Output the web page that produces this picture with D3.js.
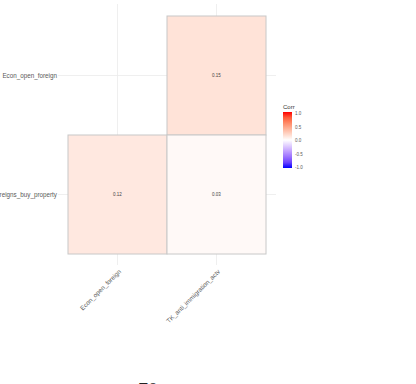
<!DOCTYPE html>
<html>
<head>
<meta charset="utf-8">
<script src="https://cdn.jsdelivr.net/npm/d3@7"></script>
<style>
  body { margin: 0; background: #fff; }
  svg { display: block; font-family: "Liberation Sans", Arial, sans-serif; }
</style>
</head>
<body>
<div id="chart"></div>
<script>
// variables on each axis
const xVars = ["Econ_open_foreign", "TK_anti_immigration_actv"];
const yVars = ["Econ_open_foreign", "Foreigns_buy_property"];
// lower-triangle correlations (x, y, r)
const cellX = ["TK_anti_immigration_actv", "Econ_open_foreign", "TK_anti_immigration_actv"];
const cellY = ["Econ_open_foreign", "Foreigns_buy_property", "Foreigns_buy_property"];
const cellR = [0.15, 0.12, 0.03];
const legendTicks = [1.0, 0.5, 0.0, -0.5, -1.0];

const W = 416, H = 384;
const svg = d3.select('#chart').append('svg').attr('width', W).attr('height', H);

const x = d3.scaleBand().domain(xVars).range([68, 266]);
const y = d3.scaleBand().domain(yVars).range([16, 254]);

const color = d3.scaleLinear().domain([-1, 0, 1])
  .range(["#0000ff", "#ffffff", "#ff0000"])
  .interpolate(d3.interpolateLab);

// grid lines
const grid = svg.append('g').attr('stroke', '#ebebeb').attr('stroke-width', 0.8);
xVars.forEach(v => {
  grid.append('line').attr('x1', x(v) + x.bandwidth() / 2).attr('x2', x(v) + x.bandwidth() / 2)
    .attr('y1', 4).attr('y2', 265);
});
yVars.forEach(v => {
  grid.append('line').attr('y1', y(v) + y.bandwidth() / 2).attr('y2', y(v) + y.bandwidth() / 2)
    .attr('x1', 58).attr('x2', 276);
});

// tiles
const cells = cellR.map((r, i) => ({ x: cellX[i], y: cellY[i], r: r }));
svg.append('g').selectAll('rect').data(cells).join('rect')
  .attr('x', d => x(d.x)).attr('y', d => y(d.y))
  .attr('width', x.bandwidth()).attr('height', y.bandwidth())
  .attr('fill', d => color(d.r))
  .attr('stroke', '#c8c8c8').attr('stroke-width', 1);

svg.append('g').selectAll('text').data(cells).join('text')
  .attr('x', d => x(d.x) + x.bandwidth() / 2)
  .attr('y', d => y(d.y) + y.bandwidth() / 2 + 1.5)
  .attr('text-anchor', 'middle').attr('font-size', 4.5).attr('fill', '#444')
  .text(d => d.r.toFixed(2));

// y axis labels
svg.append('g').selectAll('text').data(yVars).join('text')
  .attr('x', 57).attr('y', d => y(d) + y.bandwidth() / 2 + 2.2)
  .attr('text-anchor', 'end').attr('font-size', 6.3).attr('fill', '#5a5a5a')
  .text(d => d);

// x axis labels, rotated
svg.append('g').selectAll('text').data(xVars).join('text')
  .attr('transform', d => 'translate(' + (x(d) + x.bandwidth() / 2 + 4) + ',272) rotate(-45)')
  .attr('text-anchor', 'end').attr('font-size', 6.3).attr('fill', '#5a5a5a')
  .text(d => d);

// legend
const lg = svg.append('g');
const ly = d3.scaleLinear().domain([1, -1]).range([113, 167]);
const defs = svg.append('defs');
const grad = defs.append('linearGradient').attr('id', 'lgGrad')
  .attr('x1', 0).attr('x2', 0).attr('y1', 0).attr('y2', 1);
d3.range(0, 1.0001, 0.1).forEach(t => {
  grad.append('stop').attr('offset', t).attr('stop-color', color(1 - 2 * t));
});
lg.append('rect').attr('x', 283).attr('y', 112).attr('width', 9).attr('height', 56)
  .attr('fill', 'url(#lgGrad)');
lg.append('text').attr('x', 283).attr('y', 109).attr('font-size', 6).attr('fill', '#333').text('Corr');
lg.selectAll('.tk').data(legendTicks).join('text')
  .attr('x', 295).attr('y', d => ly(d) + 2)
  .attr('font-size', 4.5).attr('fill', '#5a5a5a')
  .text(d => d.toFixed(1));

// bottom stray caption, mostly below the frame as in the reference
svg.append('text').attr('x', 148).attr('y', 397).attr('text-anchor', 'middle')
  .attr('font-family', 'Liberation Serif, serif').attr('font-size', 20).attr('fill', '#222')
  .text('70');
</script>
</body>
</html>
